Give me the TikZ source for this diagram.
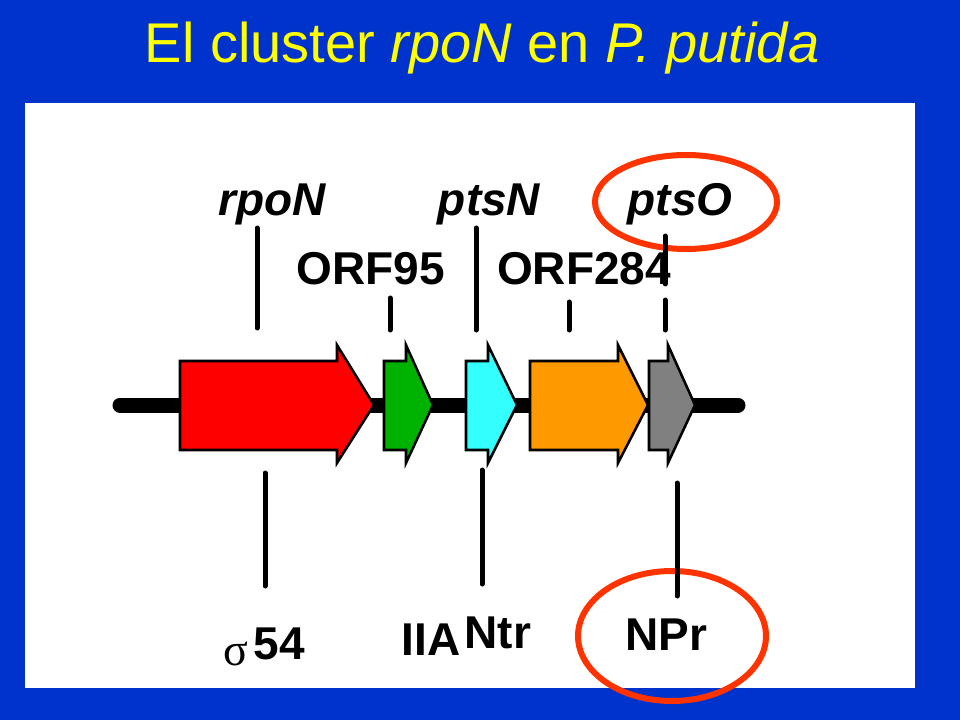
\documentclass[tikz,border=0pt]{standalone}
\usepackage{fontspec}
\setmainfont{Liberation Sans}
\newfontfamily\sigmafont{Liberation Serif}
\usepackage{tikz}
\usetikzlibrary{shapes.geometric}

\definecolor{slideblue}{RGB}{0,51,204}
\definecolor{titleyellow}{RGB}{255,255,0}
\definecolor{ringred}{RGB}{255,51,0}
\definecolor{genered}{RGB}{255,0,0}
\definecolor{genegreen}{RGB}{0,178,0}
\definecolor{genecyan}{RGB}{51,255,255}
\definecolor{geneorange}{RGB}{255,153,0}
\definecolor{genegray}{RGB}{128,128,128}

\tikzset{
  genebox/.style={draw=black,line width=1.9pt,line join=miter},
  tickline/.style={line width=3.75pt,line cap=round},
  genelbl/.style={inner sep=0pt,anchor=base,font=\fontsize{34.5pt}{36pt}\selectfont\bfseries\itshape},
  protlbl/.style={inner sep=0pt,anchor=base,font=\fontsize{34.5pt}{36pt}\selectfont\bfseries},
  ring/.style={ellipse,draw=ringred,line width=4.5pt,inner sep=0pt}
}

% fill, left end, shoulder, tip
\newcommand{\gene}[4]{%
  \filldraw[genebox,fill=#1] (#2,361) -- (#3,361) -- (#3,345) -- (#4,405)
    -- (#3,463) -- (#3,450) -- (#2,450) -- cycle;}

\begin{document}
\begin{tikzpicture}[line cap=round,line join=round,x=0.75pt,y=-0.75pt]
\fill[slideblue] (0,0) rectangle (960,720);
\fill[white] (25,103) rectangle (915,688);

% title
\node[anchor=base,inner sep=0pt,text=titleyellow,font=\fontsize{42pt}{44pt}\selectfont] (title) at (482,63) {El cluster \textit{rpoN} en \textit{P. putida}};

% backbone and genes
\coordinate (dnaL) at (120,405);
\coordinate (dnaR) at (738,405);
\draw[line width=11.25pt] (dnaL) -- (dnaR);
\gene{genered}{180}{337}{374}
\gene{genegreen}{384}{406}{433}
\gene{genecyan}{466}{488}{517}
\gene{geneorange}{530}{618}{648}
\gene{genegray}{649}{668}{695}

% highlight rings
\node[ring,minimum width=136.5pt,minimum height=70.5pt] (ringO) at (686,202) {};
\node[ring,minimum width=141pt,minimum height=97.5pt] (ringNPr) at (672,636) {};

% gene names
\node[genelbl] (rpoN) at (272,216) {rpoN};
\node[genelbl] (ptsN) at (489,216) {ptsN};
\node[genelbl] (ptsO) at (680,216) {ptsO};
\node[protlbl] (orf95) at (371,285) {ORF95};
\node[protlbl] (orf284) at (584,285) {ORF284};

% proteins
\node[protlbl] (sigma) at (264,659) {\raisebox{-4.5pt}{\sigmafont\mdseries σ}\kern4pt 54};
\node[protlbl] (iia) at (431,655) {IIA};
\node[protlbl] (ntr) at (498,648) {Ntr};
\node[protlbl] (npr) at (666,650) {NPr};

% ticks above
\coordinate (rpoNa) at (257,228);
\coordinate (rpoNb) at (257,328);
\coordinate (orf95a) at (390,298);
\coordinate (orf95b) at (390,330);
\coordinate (ptsNa) at (476,228);
\coordinate (ptsNb) at (476,330);
\coordinate (orf284a) at (569,302);
\coordinate (orf284b) at (569,330);
\coordinate (ptsOa) at (665,236);
\coordinate (ptsOb) at (665,284);
\coordinate (ptsOc) at (665,300);
\coordinate (ptsOd) at (665,330);
\draw[tickline] (rpoNa) -- (rpoNb);
\draw[tickline] (orf95a) -- (orf95b);
\draw[tickline] (ptsNa) -- (ptsNb);
\draw[tickline] (orf284a) -- (orf284b);
\draw[tickline] (ptsOa) -- (ptsOb);
\draw[tickline] (ptsOc) -- (ptsOd);

% ticks below
\coordinate (sigmaa) at (265,473);
\coordinate (sigmab) at (265,586);
\coordinate (ntra) at (482,470);
\coordinate (ntrb) at (482,584);
\coordinate (npra) at (677,483);
\coordinate (nprb) at (677,596);
\draw[tickline] (sigmaa) -- (sigmab);
\draw[tickline] (ntra) -- (ntrb);
\draw[tickline] (npra) -- (nprb);
\end{tikzpicture}
\end{document}
